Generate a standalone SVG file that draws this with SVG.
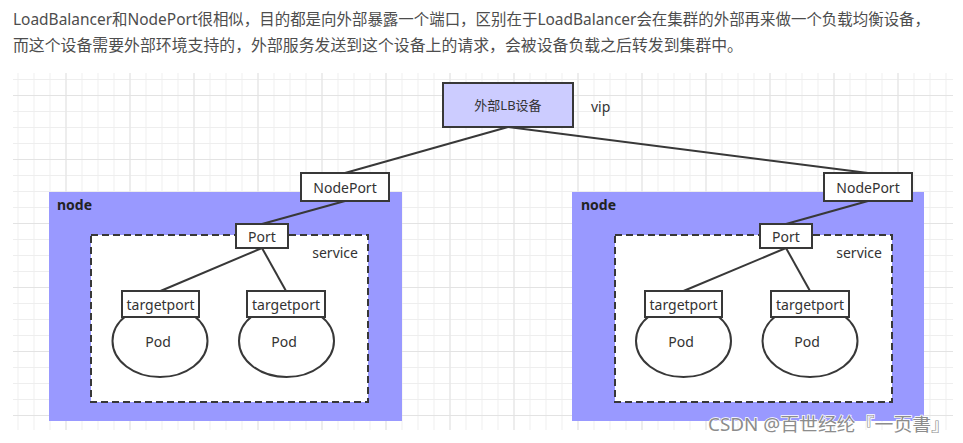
<svg xmlns="http://www.w3.org/2000/svg" width="963" height="443" viewBox="0 0 963 443">
<defs>
<pattern id="gMinor" x="1.5" y="15" width="16" height="16" patternUnits="userSpaceOnUse">
<path d="M0.5 0V16M0 0.5H16" fill="none" stroke="#eeeeee" stroke-width="1"/>
</pattern>
<pattern id="gMajor" x="1.5" y="31" width="64" height="64" patternUnits="userSpaceOnUse">
<path d="M0.5 0V64M0 0.5H64" fill="none" stroke="#e3e3e3" stroke-width="1"/>
</pattern>
<style>
.hdr{font-family:"Noto Sans","Noto Sans CJK SC",sans-serif;font-size:15.5px;fill:#4d4d4d}
.box{fill:#ffffff;stroke:#383838;stroke-width:2}
.lb{fill:#ccccff;stroke:#383838;stroke-width:2}
.nd{fill:#9999ff;stroke:none}
.svc{fill:#ffffff;stroke:#383838;stroke-width:2;stroke-dasharray:7 4}
.t{font-family:"Noto Sans","Noto Sans CJK SC",sans-serif;font-size:14px;fill:#333333;text-anchor:middle;dominant-baseline:central}
.tl{font-family:"Noto Sans","Noto Sans CJK SC",sans-serif;font-size:14px;fill:#333333;dominant-baseline:central}
.bold{font-weight:bold;fill:#222222}
.edge{stroke:#383838;stroke-width:2;fill:none}
</style>
</defs>
<rect width="963" height="443" fill="#ffffff"/>
<text class="hdr" x="13" y="25" textLength="917" lengthAdjust="spacingAndGlyphs">LoadBalancer和NodePort很相似，目的都是向外部暴露一个端口，区别在于LoadBalancer会在集群的外部再来做一个负载均衡设备，</text>
<text class="hdr" x="13" y="51" textLength="730" lengthAdjust="spacingAndGlyphs">而这个设备需要外部环境支持的，外部服务发送到这个设备上的请求，会被设备负载之后转发到集群中。</text>
<g id="grid">
<rect x="13" y="73" width="940" height="357" fill="url(#gMinor)"/>
<rect x="13" y="73" width="940" height="357" fill="url(#gMajor)"/>
</g>
<g id="node-left">
<rect class="nd" x="49" y="192" width="353" height="229"/>
<text class="tl bold" x="57" y="204">node</text>
</g>
<g id="node-right">
<rect class="nd" x="572" y="192" width="352" height="229"/>
<text class="tl bold" x="581" y="204">node</text>
</g>
<g id="service-left">
<rect class="svc" x="91" y="235" width="277" height="167"/>
<text class="tl" x="358" y="252" style="text-anchor:end">service</text>
</g>
<g id="service-right">
<rect class="svc" x="615" y="235" width="277" height="167"/>
<text class="tl" x="882" y="252" style="text-anchor:end">service</text>
</g>
<g id="connectors">
<line class="edge" x1="508" y1="127" x2="345" y2="173"/>
<line class="edge" x1="508" y1="127" x2="868" y2="173"/>
<line class="edge" x1="345" y1="201" x2="262" y2="224"/>
<line class="edge" x1="262" y1="248" x2="160.5" y2="291"/>
<line class="edge" x1="262" y1="248" x2="286" y2="291"/>
<line class="edge" x1="868" y1="201" x2="786" y2="224"/>
<line class="edge" x1="786" y1="248" x2="683.5" y2="291"/>
<line class="edge" x1="786" y1="248" x2="810" y2="291"/>
</g>
<g id="lb">
<rect class="lb" x="443" y="83" width="130" height="44"/>
<text class="t" x="508" y="105" style="font-size:13px">外部LB设备</text>
<text class="tl" x="591" y="106">vip</text>
</g>
<g id="nodeport-left">
<rect class="box" x="301" y="173" width="88" height="28"/>
<text class="t" x="345" y="187">NodePort</text>
</g>
<g id="nodeport-right">
<rect class="box" x="824" y="173" width="88" height="28"/>
<text class="t" x="868" y="187">NodePort</text>
</g>
<g id="port-left">
<rect class="box" x="236" y="224" width="52" height="24"/>
<text class="t" x="262" y="236">Port</text>
</g>
<g id="port-right">
<rect class="box" x="760" y="224" width="52" height="24"/>
<text class="t" x="786" y="236">Port</text>
</g>
<g id="pod-left-1">
<ellipse class="box" cx="160" cy="341" rx="47.5" ry="36"/>
<rect class="box" x="122" y="291" width="77" height="26"/>
<text class="t" x="160.5" y="304">targetport</text>
<text class="t" x="158" y="341">Pod</text>
</g>
<g id="pod-left-2">
<ellipse class="box" cx="286.5" cy="341" rx="47.5" ry="36"/>
<rect class="box" x="247" y="291" width="78" height="26"/>
<text class="t" x="286" y="304">targetport</text>
<text class="t" x="284" y="341">Pod</text>
</g>
<g id="pod-right-1">
<ellipse class="box" cx="683.5" cy="341" rx="47.5" ry="36"/>
<rect class="box" x="645" y="291" width="77" height="26"/>
<text class="t" x="683.5" y="304">targetport</text>
<text class="t" x="681" y="341">Pod</text>
</g>
<g id="pod-right-2">
<ellipse class="box" cx="810" cy="341" rx="47.5" ry="36"/>
<rect class="box" x="771" y="291" width="78" height="26"/>
<text class="t" x="810" y="304">targetport</text>
<text class="t" x="807" y="341">Pod</text>
</g>
<text x="708" y="431" textLength="242" lengthAdjust="spacingAndGlyphs" style="font-family:'Noto Sans','Noto Sans CJK SC',sans-serif;font-size:18px;fill:#8c8c8c;stroke:#ffffff;stroke-width:1.5;paint-order:stroke">CSDN @百世经纶『一页書』</text>
</svg>
